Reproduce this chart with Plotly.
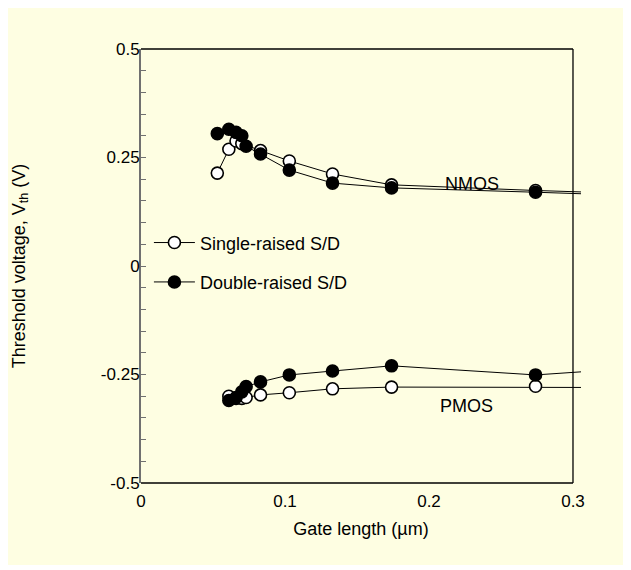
import plotly.graph_objects as go

# Gate length (um) and threshold voltage (V)
nmos_single_x = [0.053, 0.061, 0.066, 0.070, 0.083, 0.103, 0.133, 0.174, 0.274, 0.5]
nmos_single_y = [0.214, 0.269, 0.288, 0.282, 0.266, 0.242, 0.212, 0.187, 0.174, 0.150]
nmos_double_x = [0.053, 0.061, 0.066, 0.070, 0.073, 0.083, 0.103, 0.133, 0.174, 0.274, 0.5]
nmos_double_y = [0.305, 0.315, 0.308, 0.300, 0.276, 0.258, 0.221, 0.191, 0.180, 0.170, 0.145]
pmos_single_x = [0.061, 0.066, 0.070, 0.073, 0.083, 0.103, 0.133, 0.174, 0.274, 0.5]
pmos_single_y = [-0.300, -0.305, -0.305, -0.303, -0.297, -0.292, -0.283, -0.279, -0.277, -0.281]
pmos_double_x = [0.061, 0.066, 0.070, 0.073, 0.083, 0.103, 0.133, 0.174, 0.274, 0.5]
pmos_double_y = [-0.310, -0.303, -0.290, -0.278, -0.267, -0.251, -0.242, -0.230, -0.251, -0.200]

y_tick_vals = [0.5, 0.25, 0, -0.25, -0.5]
y_tick_text = ["0.5", "0.25", "0", "-0.25", "-0.5"]
x_tick_vals = [0, 0.1, 0.2, 0.3]
x_tick_text = ["0", "0.1", "0.2", "0.3"]
series_names = ["Single-raised S/D", "Double-raised S/D"]

BG = "#FEFEE2"
FONT = "Liberation Sans, Arial, sans-serif"

fig = go.Figure()

def add(x, y, filled, name, show):
    fig.add_trace(go.Scatter(
        x=x, y=y, mode="lines+markers", name=name,
        legendgroup=name, showlegend=show,
        line=dict(color="black", width=1),
        marker=dict(size=12, symbol="circle",
                    color="black" if filled else "white",
                    line=dict(color="black", width=1.6)),
        cliponaxis=True,
    ))

add(nmos_single_x, nmos_single_y, False, series_names[0], True)
add(nmos_double_x, nmos_double_y, True, series_names[1], True)
add(pmos_single_x, pmos_single_y, False, series_names[0], False)
add(pmos_double_x, pmos_double_y, True, series_names[1], False)

# minor ticks every 0.05 on y
minor_vals = [round(-0.5 + 0.05 * i, 2) for i in range(21)]

# page body has an 8px margin: figure is placed at (8, 8)
W, H = 623, 562
L, T, PW, PH = 133, 41, 440, 434

fig.update_layout(
    width=W, height=H,
    margin=dict(l=L, r=W - L - PW, t=T, b=H - T - PH, autoexpand=False),
    paper_bgcolor="white",
    plot_bgcolor=BG,
    font=dict(family=FONT, size=18, color="black"),
    showlegend=True,
    legend=dict(x=0.018, y=0.596, xanchor="left", yanchor="top",
                bgcolor="rgba(0,0,0,0)", font=dict(size=18),
                tracegroupgap=13, itemwidth=41),
    xaxis=dict(range=[0, 0.30556], showgrid=False, zeroline=False,
               automargin=False,
               tickvals=x_tick_vals, ticktext=x_tick_text, ticks="",
               tickfont=dict(size=17),
               showline=False, ticklabelstandoff=6,
               title=dict(text="Gate length (µm)", standoff=12,
                          font=dict(size=18))),
    yaxis=dict(range=[-0.5, 0.5], showgrid=False, zeroline=False,
               automargin=False,
               tickvals=minor_vals,
               ticktext=[(y_tick_text[y_tick_vals.index(v)] if v in y_tick_vals else "") for v in minor_vals],
               tickfont=dict(size=17), ticklabelstandoff=-4,
               ticks="inside", ticklen=5, tickcolor="#707070", tickwidth=1,
               showline=True, linecolor="#707070", linewidth=2,
               title=dict(text="Threshold voltage, V<sub>th</sub> (V)", standoff=71,
                          font=dict(size=18))),
    shapes=[
        dict(type="rect", xref="paper", yref="paper", x0=-L / PW, x1=(619 - L) / PW,
             y0=-(557 - T - PH) / PH, y1=1 + T / PH, fillcolor=BG,
             line=dict(width=0), layer="below"),
        dict(type="line", xref="x", yref="paper", x0=0, x1=0.3, y0=1, y1=1,
             line=dict(color="black", width=1.3)),
        dict(type="line", xref="x", yref="paper", x0=0, x1=0.3, y0=0, y1=0,
             line=dict(color="black", width=1.3)),
        dict(type="line", xref="x", yref="paper", x0=0.3, x1=0.3, y0=0, y1=1,
             line=dict(color="black", width=1.3)),
    ],
    annotations=[
        dict(x=0.23, y=0.19, xref="x", yref="y", text="NMOS", showarrow=False,
             font=dict(size=18)),
        dict(x=0.226, y=-0.322, xref="x", yref="y", text="PMOS", showarrow=False,
             font=dict(size=18)),
    ],
)

fig.write_html("out.html")
